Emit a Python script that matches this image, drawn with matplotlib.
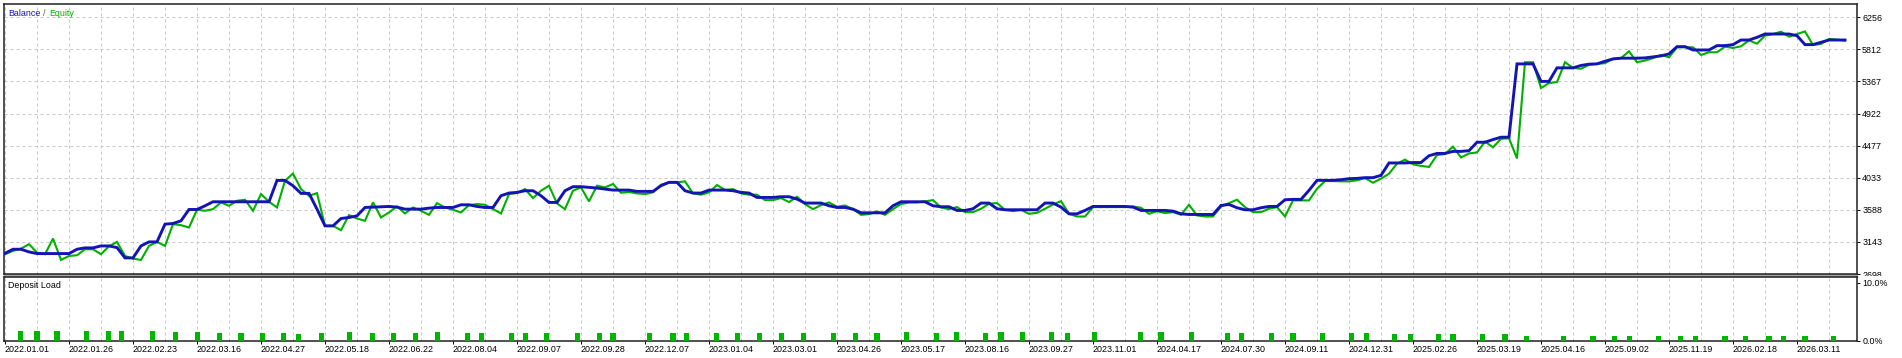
import matplotlib
matplotlib.use('Agg')
import matplotlib.pyplot as plt
from matplotlib.patches import Rectangle
from matplotlib.transforms import Bbox
import numpy as np

# balance / equity per deal
balance = [2985, 3041, 3041, 3004, 2981, 2981, 2981, 2981, 2981, 3041,
           3060, 3060, 3087, 3087, 3064, 2921, 2921, 3087, 3143, 3143,
           3389, 3398, 3435, 3592, 3592, 3643, 3699, 3699, 3699, 3699,
           3699, 3699, 3699, 3699, 3995, 3995, 3921, 3815, 3815, 3597,
           3365, 3365, 3467, 3481, 3504, 3620, 3625, 3629, 3634, 3625,
           3597, 3597, 3597, 3611, 3620, 3620, 3620, 3657, 3657, 3634,
           3620, 3620, 3783, 3820, 3829, 3852, 3852, 3783, 3690, 3690,
           3852, 3908, 3908, 3898, 3889, 3875, 3861, 3861, 3861, 3843,
           3843, 3843, 3922, 3968, 3968, 3852, 3820, 3820, 3861, 3861,
           3861, 3852, 3829, 3820, 3759, 3759, 3759, 3769, 3769, 3736,
           3681, 3681, 3681, 3644, 3620, 3620, 3597, 3546, 3546, 3546,
           3546, 3644, 3699, 3699, 3699, 3699, 3644, 3630, 3630,
           3579, 3579, 3602, 3681, 3681, 3602, 3588, 3588, 3588, 3588,
           3588, 3681, 3681, 3625, 3532, 3532, 3579, 3634, 3634, 3634,
           3634, 3634, 3625, 3579, 3579, 3579, 3579, 3569, 3532, 3523,
           3523, 3523, 3523, 3648, 3662, 3616, 3588, 3588, 3616, 3634,
           3634, 3727, 3732, 3732, 3857, 3996, 3996, 3996, 4005, 4019,
           4023, 4033, 4033, 4065, 4237, 4237, 4237,
           4243, 4243, 4337, 4369, 4369, 4397, 4397, 4407, 4524, 4524, 4561, 4594, 4594,
           5610, 5610, 5610, 5367, 5367, 5555, 5555, 5555, 5588, 5606, 5610,
           5647, 5679, 5689, 5689, 5689, 5693, 5707, 5721, 5748, 5849,
           5849, 5803, 5803, 5803, 5863, 5863, 5877, 5941, 5941, 5978,
           6024, 6024, 6024, 6024, 6001, 5877, 5877, 5909, 5941, 5941, 5941]

equity = [2972, 3018, 3050, 3111, 2995, 2972, 3189, 2893, 2948, 2958,
          3041, 3041, 2972, 3083, 3143, 2948, 2911, 2893, 3087, 3143,
          3087, 3389, 3375, 3342, 3588, 3574, 3597, 3690, 3643, 3713,
          3727, 3574, 3806, 3699, 3620, 3991, 4090, 3875, 3782, 3819,
          3365, 3365, 3305, 3514, 3467, 3435, 3690, 3481, 3551, 3634,
          3537, 3620, 3574, 3518, 3680, 3620, 3588, 3551, 3653, 3667,
          3658, 3597, 3537, 3806, 3820, 3875, 3750, 3852, 3922, 3676,
          3597, 3852, 3898, 3704, 3922, 3898, 3945, 3824, 3834, 3815,
          3806, 3829, 3935, 3968, 3968, 3982, 3815, 3797, 3829, 3931,
          3861, 3875, 3815, 3797, 3797, 3722, 3722, 3750, 3695, 3769,
          3667, 3597, 3653, 3690, 3630, 3648, 3597, 3518, 3528, 3565,
          3518, 3597, 3667, 3690, 3690, 3704, 3722, 3620, 3597,
          3625, 3556, 3556, 3602, 3671, 3681, 3588, 3569, 3588, 3532,
          3546, 3602, 3662, 3708, 3532, 3495, 3495, 3625, 3625, 3625,
          3625, 3625, 3634, 3616, 3532, 3569, 3542, 3556, 3519, 3657,
          3509, 3495, 3495, 3634, 3681, 3727, 3625, 3556, 3556, 3602,
          3625, 3495, 3718, 3718, 3718, 3880, 3986, 3986, 3982, 3982,
          3996, 4028, 3963, 4019, 4088, 4227, 4283,
          4220, 4196, 4182, 4346, 4360, 4463, 4313, 4369, 4383, 4533, 4454, 4571, 4580,
          4299, 5633, 5633, 5275, 5344, 5358, 5633, 5555, 5542, 5597, 5610,
          5620, 5679, 5689, 5785, 5633, 5656, 5689, 5734, 5702, 5840,
          5840, 5840, 5734, 5771, 5771, 5849, 5831, 5854, 5936, 5890,
          6001, 6024, 6056, 5987, 6024, 6060, 5872, 5886, 5955, 5946, 5932]

# deposit load bars: deal index and load in %
load_pos = [1.9, 4.0, 6.5, 10.2, 12.9, 14.6, 18.4, 21.3, 24.1, 26.8,
            29.5, 32.2, 34.8, 36.7, 39.6, 43.1, 45.9, 48.6, 51.3, 54.1,
            57.8, 59.6, 63.3, 65.1, 67.7, 71.6, 74.3, 76.0, 80.6, 83.5,
            85.2, 88.9, 91.6, 94.3, 97.1, 99.8, 103.6, 106.3, 109.0, 112.7,
            116.4, 118.9, 122.6, 124.5, 127.2, 130.8, 132.8, 136.2, 141.9, 144.5,
            148.3, 152.8, 154.6, 158.3, 161.0, 164.7, 168.3, 170.2, 173.7, 175.7,
            179.2, 181.0, 184.7, 187.5, 190.2, 194.8, 198.5, 201.2, 203.1, 206.7,
            209.4, 211.3, 215.0, 217.6, 220.5, 222.3, 225.0, 228.6]
load_pct = [1.7] * 7 + [1.5] * 2 + [1.35] * 4 + [1.2, 1.35, 1.5] + [1.35] * 3 + [1.5] \
    + [1.35] * 19 + [1.5, 1.35, 1.5, 1.35] + [1.5] * 3 + [1.35] + [1.5] * 4 \
    + [1.35] * 7 + [1.2] * 6 + [0.85] * 14

dates = ['2022.01.01', '2022.01.26', '2022.02.23', '2022.03.16', '2022.04.27',
         '2022.05.18', '2022.06.22', '2022.08.04', '2022.09.07', '2022.09.28',
         '2022.12.07', '2023.01.04', '2023.03.01', '2023.04.26', '2023.05.17',
         '2023.08.16', '2023.09.27', '2023.11.01', '2024.04.17', '2024.07.30',
         '2024.09.11', '2024.12.31', '2025.02.26', '2025.03.19', '2025.04.16',
         '2025.09.02', '2025.11.19', '2026.02.18', '2026.03.11']
y_ticks = [2698, 3143, 3588, 4033, 4477, 4922, 5367, 5812, 6256]

BLUE = '#1414b4'
GREEN = '#00b000'
GRID = '#c8c8c8'
W, H = 1902, 358
plt.rcParams['font.family'] = ['Liberation Sans', 'DejaVu Sans']
plt.rcParams['font.size'] = 6.4


def box(l, t, r, b):
    return [l / W, 1 - b / H, (r - l) / W, (b - t) / H]


fig = plt.figure(figsize=(W / 100, H / 100), dpi=100)
ax = fig.add_axes(box(4, 4, 1857, 274))
ax2 = fig.add_axes(box(4, 277, 1857, 341), sharex=ax)
fig.patches.append(Rectangle((4 / W, 1 - 277 / H), 1853 / W, 3 / H,
                             transform=fig.transFigure, color='#a8a8a8', zorder=-1))

x = np.arange(len(balance))
ax.plot(x, equity, color=GREEN, lw=1.5, zorder=3, solid_joinstyle='miter')
ax.plot(x, balance, color=BLUE, lw=2.1, zorder=4, solid_joinstyle='miter')
ax2.bar(load_pos, load_pct, width=0.65, color='#00b400', zorder=3)

step = 8
ax.set_xlim(-0.125, 231.5)
ax.set_ylim(2698, 6440)
ax2.set_ylim(0, 11.03)
ax2.set_xticks(np.arange(len(dates)) * step)
ax2.set_xticks(np.arange(len(dates)) * step + step / 2, minor=True)
ax2.set_xticklabels(dates)
for t in ax2.get_xticklabels():
    t.set_ha('left')

ax.set_yticks(y_ticks)
ax.set_yticklabels([str(v) for v in y_ticks])
ax2.set_yticks([0, 10])
ax2.set_yticklabels(['0.0%', '10.0%'])

for a in (ax, ax2):
    a.yaxis.tick_right()
    a.tick_params(axis='y', direction='out', length=2.2, width=0.7, pad=1.5,
                  colors='#000000')
    a.tick_params(axis='x', which='both', direction='out', length=2.2, width=0.7, pad=1)
    a.grid(True, which='both', axis='x', color=GRID, lw=0.72, ls=(0, (3, 3)))
    for s in a.spines.values():
        s.set_color('#202020')
        s.set_linewidth(1.1)
ax.grid(True, which='major', axis='y', color=GRID, lw=0.72, ls=(0, (3, 3)))
ax.tick_params(axis='x', which='both', length=0, labelbottom=False)
ax2.tick_params(axis='x', which='minor', length=0)

lbl = ax.get_yticklabels()[0]
lbl.set_clip_box(Bbox.from_extents(1858, H - 276, W, H))
lbl.set_clip_on(True)

ax.annotate('Balance', (0, 1), xycoords='axes fraction', xytext=(4, -9),
            textcoords='offset pixels', color=BLUE, va='center')
ax.annotate('/', (0, 1), xycoords='axes fraction', xytext=(39, -9),
            textcoords='offset pixels', color='#606060', va='center')
ax.annotate('Equity', (0, 1), xycoords='axes fraction', xytext=(45, -9),
            textcoords='offset pixels', color=GREEN, va='center')
ax2.annotate('Deposit Load', (0, 1), xycoords='axes fraction', xytext=(4, -8),
             textcoords='offset pixels', color='#000000', va='center')

fig.savefig('out.png', dpi=100)
